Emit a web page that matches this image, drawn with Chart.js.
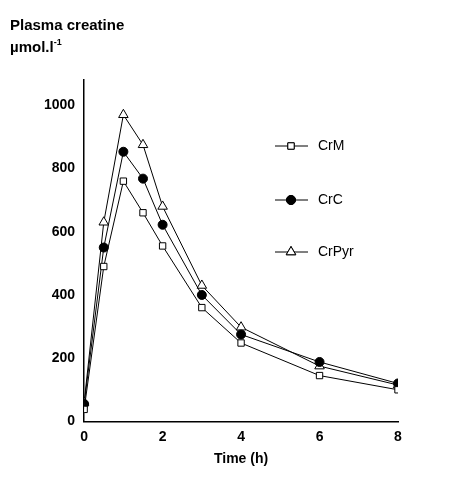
<!DOCTYPE html><html><head><script src="https://cdn.jsdelivr.net/npm/chart.js@4"></script>
<style>body{margin:0;background:#fff}#w{width:451px;height:500px}</style></head><body><div id="w"><canvas id="c"></canvas></div>
<script>
const times=[0,0.5,1,1.5,2,3,4,6,8];
const crM=[38,490,760,660,555,360,248,145,100];
const crC=[55,550,853,768,622,400,275,188,120];
const crPyr=[60,630,970,875,680,430,298,175,115];
const xTicks=[0,2,4,6,8];
const yTicks=[0,200,400,600,800,1000];
const names=['CrM','CrC','CrPyr'];
const F='"Liberation Sans", Arial, sans-serif';
function ds(label,data,style,fill){return{label,data:times.map((t,i)=>({x:t,y:data[i]})),borderColor:'#000',borderWidth:1,pointStyle:style,pointRadius:style==='triangle'?5.5:4.5,pointBackgroundColor:fill,pointBorderColor:'#000',pointBorderWidth:1,tension:0};}
const legendPlugin={id:'lg',afterDraw(ch){const c=ch.ctx;c.save();const sets=ch.data.datasets;const ys=[146,200,252];
c.font='14px '+F;c.fillStyle='#000';c.strokeStyle='#000';c.lineWidth=1;
sets.forEach((d,i)=>{const y=ys[i];c.beginPath();c.moveTo(275,y);c.lineTo(308,y);c.stroke();
Chart.helpers.drawPoint(c,{pointStyle:d.pointStyle,radius:d.pointRadius,borderWidth:1},291,y);
c.fillStyle=d.pointBackgroundColor;c.fill();c.stroke();c.fillStyle='#000';c.textBaseline='middle';c.fillText(d.label,318,y);});
c.font='bold 15px '+F;c.textBaseline='alphabetic';c.fillText('Plasma creatine',10,30);c.fillText('µmol.l',10,52);
const w=c.measureText('µmol.l').width;c.font='bold 9px '+F;c.fillText('-1',10+w,45);c.restore();}};
new Chart(document.getElementById('c'),{type:'line',data:{datasets:[ds(names[0],crM,'rect','#fff'),ds(names[1],crC,'circle','#000'),ds(names[2],crPyr,'triangle','#fff')]},
options:{responsive:true,maintainAspectRatio:false,animation:false,layout:{padding:{left:40,right:53,top:80,bottom:28}},
plugins:{legend:{display:false},tooltip:{enabled:false}},
scales:{x:{type:'linear',min:0,max:8,afterBuildTicks(a){a.ticks=xTicks.map(v=>({value:v}));},grid:{display:false,drawTicks:true,tickLength:5,tickColor:'#000'},border:{color:'#000',width:1.5},ticks:{color:'#000',font:{family:F,size:14,weight:'bold'},padding:2},title:{display:true,text:'Time (h)',color:'#000',font:{family:F,size:14,weight:'bold'},padding:{top:4}}},
y:{min:0,max:1080,afterBuildTicks(a){a.ticks=yTicks.map(v=>({value:v}));},grid:{display:false,drawTicks:true,tickLength:5,tickColor:'#000'},border:{color:'#000',width:1.5},ticks:{color:'#000',font:{family:F,size:14,weight:'bold'},padding:4,callback:v=>String(v)}}}},
plugins:[legendPlugin]});
</script></body></html>
